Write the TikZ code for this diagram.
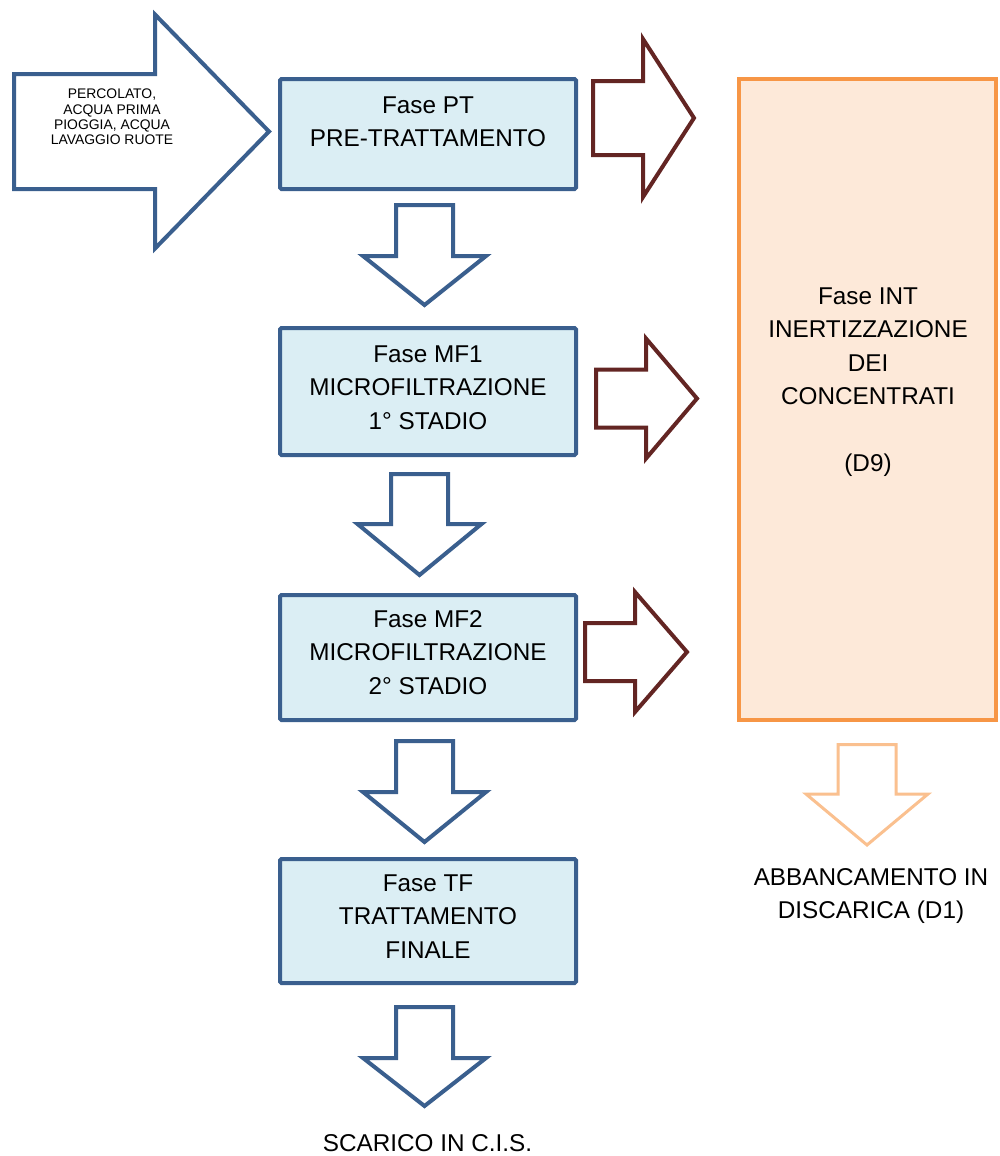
\documentclass[tikz,border=0pt]{standalone}
\usepackage{fontspec}
\setmainfont{Liberation Sans}
\definecolor{blueline}{HTML}{3A5F8E}
\definecolor{bluefill}{HTML}{DBEEF4}
\definecolor{redline}{HTML}{632523}
\definecolor{orangeline}{HTML}{F79646}
\definecolor{orangefill}{HTML}{FDE9D9}
\definecolor{lightorange}{HTML}{FAC08F}
\newcommand\DArrow[7]{% style, c, sw, hw, t, h, p
  \draw[#1] (#2-#3,#5) -- (#2+#3,#5) -- (#2+#3,#6) -- (#2+#4,#6) -- (#2,#7) -- (#2-#4,#6) -- (#2-#3,#6) -- cycle;}
\newcommand\RArrow[7]{% style, yc, sw, hw, L, H, T
  \draw[#1] (#5,#2-#3) -- (#6,#2-#3) -- (#6,#2-#4) -- (#7,#2) -- (#6,#2+#4) -- (#6,#2+#3) -- (#5,#2+#3) -- cycle;}
\begin{document}
\begin{tikzpicture}[x=1pt,y=-1pt,
  phasebox/.style={draw=blueline,fill=bluefill,line width=4pt,rounded corners=1.5pt,inner sep=0pt,minimum width=296pt},
  bigtxt/.style={align=center,inner sep=0pt,font=\fontsize{24.3}{33.4}\selectfont},
  smalltxt/.style={align=center,inner sep=0pt,font=\fontsize{13.9}{15.4}\selectfont},
  bluearrow/.style={draw=blueline,line width=4pt,fill=white,line join=miter,miter limit=10},
  redarrow/.style={draw=redline,line width=4pt,fill=white,line join=miter,miter limit=10},
  orangearrow/.style={draw=lightorange,line width=3pt,fill=white,line join=miter,miter limit=10}]
\useasboundingbox (0,0) rectangle (1000,1156);

% input arrow
\RArrow{bluearrow}{131.5}{57.5}{117}{14}{155}{269}
\node[smalltxt] (input) at (112,117) {PERCOLATO,\\ACQUA PRIMA\\PIOGGIA, ACQUA\\LAVAGGIO RUOTE};

% phase boxes
\node[phasebox,minimum height=110pt] (pt) at (428,134) {};
\node[bigtxt] (pttxt) at (428,122) {Fase PT\\PRE-TRATTAMENTO};
\node[phasebox,minimum height=127pt] (mf1) at (428,391.5) {};
\node[bigtxt] (mf1txt) at (428,387.5) {Fase MF1\\MICROFILTRAZIONE\\1° STADIO};
\node[phasebox,minimum height=125pt] (mf2) at (428,657.5) {};
\node[bigtxt] (mf2txt) at (428,652.5) {Fase MF2\\MICROFILTRAZIONE\\2° STADIO};
\node[phasebox,minimum height=124pt] (tf) at (428,921) {};
\node[bigtxt] (tftxt) at (428,916.5) {Fase TF\\TRATTAMENTO\\FINALE};

% INT box
\node[draw=orangeline,fill=orangefill,line width=4pt,inner sep=0pt,minimum width=257pt,minimum height=641pt] (int) at (867.5,399.5) {};
\node[bigtxt] (inttxt) at (868,382) {Fase INT\\INERTIZZAZIONE\\DEI\\CONCENTRATI\\[33.4pt](D9)};

% down arrows
\DArrow{bluearrow}{424.5}{28.5}{61.5}{205}{256}{305}
\DArrow{bluearrow}{419.5}{28.5}{62}{474}{524}{575}
\DArrow{bluearrow}{424.5}{28.5}{61.5}{741}{792}{842}
\DArrow{bluearrow}{424.5}{28.5}{61.5}{1007}{1058}{1106}
\DArrow{orangearrow}{867}{29}{61}{744.5}{794}{845}

% right arrows
\RArrow{redarrow}{118}{37}{79}{593}{643}{694}
\RArrow{redarrow}{398.5}{29}{60}{596}{646}{697}
\RArrow{redarrow}{652}{29}{60}{585}{635}{687}

% output texts
\node[bigtxt] (cis) at (427.5,1143) {SCARICO IN C.I.S.};
\node[bigtxt] (d1) at (871,896) {ABBANCAMENTO IN\\DISCARICA (D1)};
\end{tikzpicture}
\end{document}
